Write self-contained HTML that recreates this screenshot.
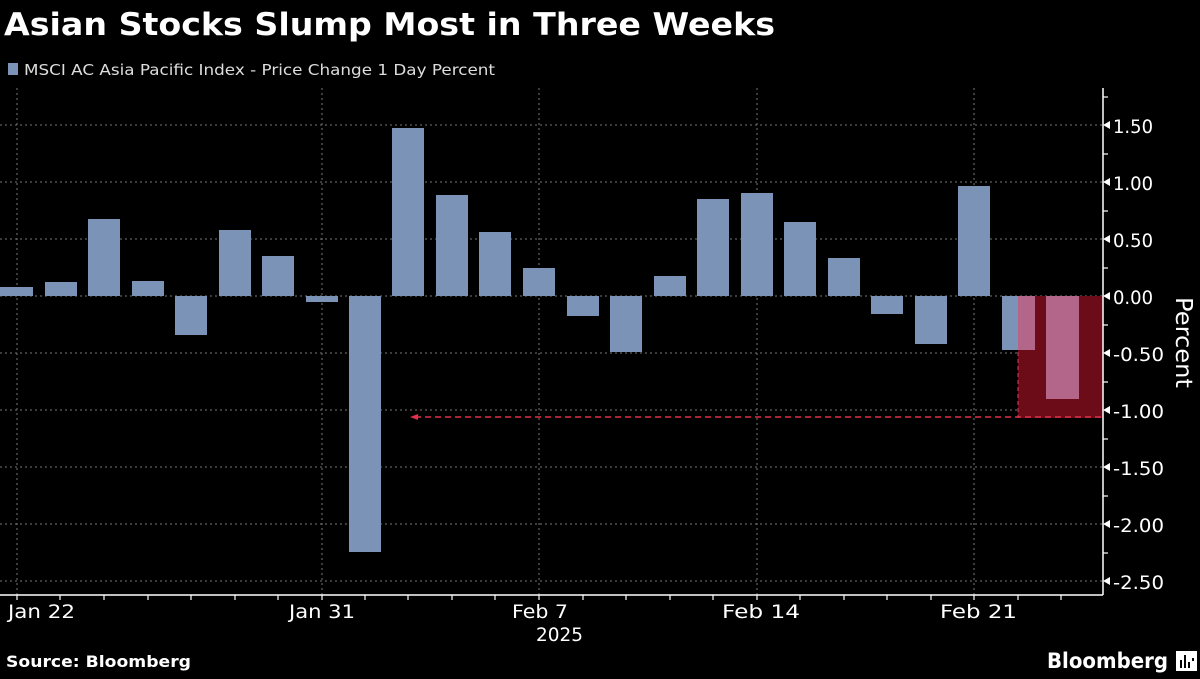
<!DOCTYPE html>
<html><head><meta charset="utf-8"><style>
body{margin:0;background:#000;width:1200px;height:675px;overflow:hidden;font-family:"DejaVu Sans","Liberation Sans",sans-serif;}
</style></head><body>
<svg width="1200" height="675" xmlns="http://www.w3.org/2000/svg">
<rect width="1200" height="675" fill="#000"/>
<text x="4" y="35" fill="#fff" font-size="31" font-weight="bold" font-family="DejaVu Sans,sans-serif" textLength="771" lengthAdjust="spacingAndGlyphs">Asian Stocks Slump Most in Three Weeks</text>
<rect x="8" y="63" width="10" height="12" fill="#7b93b6"/>
<text x="24" y="75" fill="#ddd" font-size="15" font-family="DejaVu Sans,sans-serif" textLength="471" lengthAdjust="spacingAndGlyphs">MSCI AC Asia Pacific Index - Price Change 1 Day Percent</text>
<g stroke="#777" stroke-width="1" stroke-dasharray="2,3">
<line x1="0" x2="1103" y1="125" y2="125"/><line x1="0" x2="1103" y1="182" y2="182"/><line x1="0" x2="1103" y1="239" y2="239"/><line x1="0" x2="1103" y1="296" y2="296"/><line x1="0" x2="1103" y1="353" y2="353"/><line x1="0" x2="1103" y1="410" y2="410"/><line x1="0" x2="1103" y1="467" y2="467"/><line x1="0" x2="1103" y1="524" y2="524"/><line x1="0" x2="1103" y1="581" y2="581"/>
<line x1="17" x2="17" y1="88" y2="595"/><line x1="322" x2="322" y1="88" y2="595"/><line x1="539" x2="539" y1="88" y2="595"/><line x1="757" x2="757" y1="88" y2="595"/><line x1="974" x2="974" y1="88" y2="595"/>
</g>
<rect x="1018" y="296" width="85" height="122" fill="#6b0c18"/>
<line x1="1018" x2="1018" y1="296" y2="418" stroke="#e0405a" stroke-dasharray="4,3"/>
<line x1="415" x2="1103" y1="417" y2="417" stroke="#e0304a" stroke-width="1.5" stroke-dasharray="6,4"/>
<path d="M410 417 L418 414 L418 420 Z" fill="#e0304a"/>
<g fill="#7b93b6">
<rect x="0" y="287" width="33" height="9"/>
<rect x="45" y="282" width="32" height="14"/>
<rect x="88" y="219" width="32" height="77"/>
<rect x="132" y="281" width="32" height="15"/>
<rect x="175" y="296" width="32" height="39"/>
<rect x="219" y="230" width="32" height="66"/>
<rect x="262" y="256" width="32" height="40"/>
<rect x="306" y="296" width="32" height="6"/>
<rect x="349" y="296" width="32" height="256"/>
<rect x="392" y="128" width="32" height="168"/>
<rect x="436" y="195" width="32" height="101"/>
<rect x="479" y="232" width="32" height="64"/>
<rect x="523" y="268" width="32" height="28"/>
<rect x="567" y="296" width="32" height="20"/>
<rect x="610" y="296" width="32" height="56"/>
<rect x="654" y="276" width="32" height="20"/>
<rect x="697" y="199" width="32" height="97"/>
<rect x="741" y="193" width="32" height="103"/>
<rect x="784" y="222" width="32" height="74"/>
<rect x="828" y="258" width="32" height="38"/>
<rect x="871" y="296" width="32" height="18"/>
<rect x="915" y="296" width="32" height="48"/>
<rect x="958" y="186" width="32" height="110"/>
<rect x="1002" y="296" width="16" height="54"/>
</g>
<rect x="1018" y="296" width="17" height="54" fill="#b3668a"/>
<rect x="1046" y="296" width="33" height="103" fill="#b3668a"/>
<line x1="0" x2="1103" y1="595" y2="595" stroke="#fff" stroke-width="1.5"/>
<line x1="1103" x2="1103" y1="88" y2="595" stroke="#fff" stroke-width="1.5"/>
<g stroke="#fff" stroke-width="1.2">
<line x1="17" x2="17" y1="595" y2="600"/><line x1="60" x2="60" y1="595" y2="600"/><line x1="104" x2="104" y1="595" y2="600"/><line x1="148" x2="148" y1="595" y2="600"/><line x1="191" x2="191" y1="595" y2="600"/><line x1="235" x2="235" y1="595" y2="600"/><line x1="278" x2="278" y1="595" y2="600"/><line x1="322" x2="322" y1="595" y2="600"/><line x1="365" x2="365" y1="595" y2="600"/><line x1="408" x2="408" y1="595" y2="600"/><line x1="452" x2="452" y1="595" y2="600"/><line x1="495" x2="495" y1="595" y2="600"/><line x1="539" x2="539" y1="595" y2="600"/><line x1="583" x2="583" y1="595" y2="600"/><line x1="626" x2="626" y1="595" y2="600"/><line x1="670" x2="670" y1="595" y2="600"/><line x1="713" x2="713" y1="595" y2="600"/><line x1="757" x2="757" y1="595" y2="600"/><line x1="800" x2="800" y1="595" y2="600"/><line x1="844" x2="844" y1="595" y2="600"/><line x1="887" x2="887" y1="595" y2="600"/><line x1="931" x2="931" y1="595" y2="600"/><line x1="974" x2="974" y1="595" y2="600"/><line x1="1018" x2="1018" y1="595" y2="600"/><line x1="1061" x2="1061" y1="595" y2="600"/>
<line x1="1103" x2="1108" y1="97" y2="97"/><line x1="1103" x2="1108" y1="154" y2="154"/><line x1="1103" x2="1108" y1="211" y2="211"/><line x1="1103" x2="1108" y1="268" y2="268"/><line x1="1103" x2="1108" y1="325" y2="325"/><line x1="1103" x2="1108" y1="382" y2="382"/><line x1="1103" x2="1108" y1="439" y2="439"/><line x1="1103" x2="1108" y1="496" y2="496"/><line x1="1103" x2="1108" y1="553" y2="553"/>
</g>
<g fill="#fff">
<path d="M1103 125 l7 -4 v8z"/><path d="M1103 182 l7 -4 v8z"/><path d="M1103 239 l7 -4 v8z"/><path d="M1103 296 l7 -4 v8z"/><path d="M1103 353 l7 -4 v8z"/><path d="M1103 410 l7 -4 v8z"/><path d="M1103 467 l7 -4 v8z"/><path d="M1103 524 l7 -4 v8z"/><path d="M1103 581 l7 -4 v8z"/>
</g>
<g fill="#fff" font-size="19" font-family="DejaVu Sans,sans-serif">
<text x="1113" y="133" textLength="40" lengthAdjust="spacingAndGlyphs">1.50</text><text x="1113" y="190" textLength="40" lengthAdjust="spacingAndGlyphs">1.00</text><text x="1113" y="247" textLength="40" lengthAdjust="spacingAndGlyphs">0.50</text><text x="1113" y="304" textLength="40" lengthAdjust="spacingAndGlyphs">0.00</text><text x="1113" y="361" textLength="51" lengthAdjust="spacingAndGlyphs">-0.50</text><text x="1113" y="418" textLength="51" lengthAdjust="spacingAndGlyphs">-1.00</text><text x="1113" y="475" textLength="51" lengthAdjust="spacingAndGlyphs">-1.50</text><text x="1113" y="532" textLength="51" lengthAdjust="spacingAndGlyphs">-2.00</text><text x="1113" y="589" textLength="51" lengthAdjust="spacingAndGlyphs">-2.50</text>
<text x="8" y="618" textLength="67" lengthAdjust="spacingAndGlyphs">Jan 22</text><text x="289" y="618" textLength="66" lengthAdjust="spacingAndGlyphs">Jan 31</text><text x="512" y="618" textLength="56" lengthAdjust="spacingAndGlyphs">Feb 7</text><text x="722" y="618" textLength="78" lengthAdjust="spacingAndGlyphs">Feb 14</text><text x="940" y="618" textLength="77" lengthAdjust="spacingAndGlyphs">Feb 21</text><text x="536" y="641" textLength="47" lengthAdjust="spacingAndGlyphs">2025</text>
<text transform="translate(1176,297) rotate(90)" font-size="23" textLength="91" lengthAdjust="spacingAndGlyphs">Percent</text>
</g>
<text x="6" y="667" fill="#fff" font-size="16" font-weight="bold" font-family="DejaVu Sans,sans-serif" textLength="185" lengthAdjust="spacingAndGlyphs">Source: Bloomberg</text>
<text x="1047" y="668" fill="#fff" font-size="21" font-weight="bold" font-family="DejaVu Sans,sans-serif" textLength="121" lengthAdjust="spacingAndGlyphs">Bloomberg</text>
<rect x="1176" y="651" width="21" height="20" fill="#fff"/>
<rect x="1180" y="660" width="2" height="8" fill="#000"/><rect x="1184" y="655" width="2" height="13" fill="#000"/><rect x="1188" y="662" width="2" height="6" fill="#000"/><rect x="1192" y="658" width="2" height="3" fill="#000"/>
</svg>
</body></html>
